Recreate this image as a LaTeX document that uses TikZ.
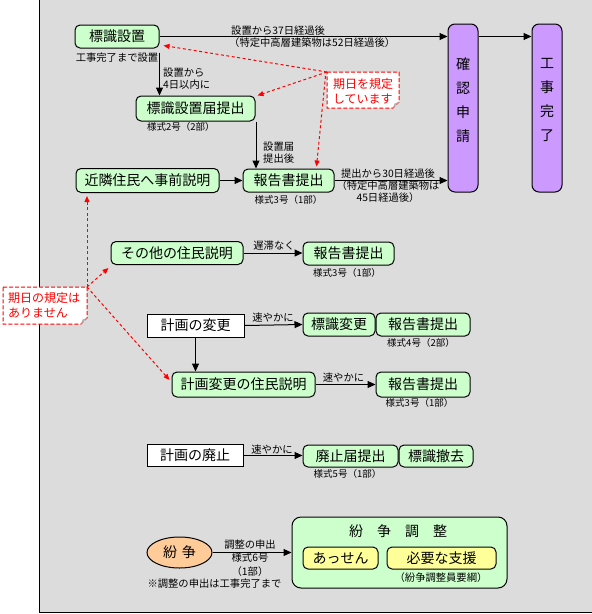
\documentclass[tikz,border=0pt]{standalone}
\usepackage{fontspec}
\setmainfont{Noto Sans CJK JP}
\usetikzlibrary{arrows.meta,shapes.geometric,calc}
\definecolor{bggray}{RGB}{220,220,220}
\definecolor{boxgreen}{RGB}{204,255,204}
\definecolor{boxpurple}{RGB}{204,153,255}
\definecolor{boxorange}{RGB}{255,204,153}
\definecolor{boxyellow}{RGB}{255,255,153}
\definecolor{callred}{RGB}{255,0,0}
\tikzset{
  gbox/.style={draw=black, fill=boxgreen, rounded corners=5pt, line width=1pt, inner sep=0pt, font=\fontsize{14}{16}\selectfont},
  wbox/.style={draw=black, fill=white, line width=1pt, inner sep=0pt, font=\fontsize{14}{16}\selectfont},
  pbox/.style={draw=black, fill=boxpurple, rounded corners=7pt, line width=1pt, inner sep=0pt},
  ybox/.style={draw=black, fill=boxyellow, rounded corners=5pt, line width=1pt, inner sep=0pt, font=\fontsize{14}{16}\selectfont},
  vtxt/.style={inner sep=0pt, align=center, font=\fontsize{14}{24}\selectfont},
  lbl/.style={inner sep=0pt, font=\fontsize{10.3}{12.5}\selectfont},
  form/.style={inner sep=0pt, font=\fontsize{9.5}{12}\selectfont},
  arr/.style={draw=black, line width=1pt, -{Triangle[length=8pt,width=7pt]}},
  rarr/.style={draw=callred, line width=1pt, dash pattern=on 3pt off 2.5pt, -{Triangle[length=6pt,width=5pt]}},
  callshape/.style={draw=callred, fill=white, line width=1pt, dash pattern=on 4pt off 2pt},
  calltxt/.style={text=callred, inner sep=0pt, font=\fontsize{12}{15}\selectfont, align=left}
}
\begin{document}
\begin{tikzpicture}[x=1pt,y=-1pt]
\useasboundingbox (0,0) rectangle (592,614);
% background frame
\fill[bggray] (39.5,0) rectangle (592,612.5);
\draw[line width=1pt] (39.5,0) -- (39.5,612.5) -- (592,612.5);

% ---- top section nodes
\node[gbox, minimum width=84pt, minimum height=23pt] (s1) at (117,36.5) {標識設置};
\node[lbl] (s1lbl) at (117,58) {工事完了まで設置};
\node[gbox, minimum width=119pt, minimum height=25pt] (s2) at (195.5,108.5) {標識設置届提出};
\node[form, anchor=west] (s2lbl) at (147,127) {様式2号（2部）};
\node[gbox, minimum width=143pt, minimum height=24pt] (kinrin) at (147.5,180.5) {近隣住民へ事前説明};
\node[gbox, minimum width=91pt, minimum height=23pt] (r1) at (288.5,180.5) {報告書提出};
\node[form] (r1lbl) at (288.5,200) {様式3号（1部）};

\node[pbox, minimum width=30pt, minimum height=168pt] (kakunin) at (463,108) {};
\node[vtxt] (kakunintxt) at (463,100) {確\\認\\申\\請};
\node[pbox, minimum width=30pt, minimum height=168pt] (kanryo) at (547,108) {};
\node[vtxt] (kanryotxt) at (547,100) {工\\事\\完\\了};

% labels of top arrows
\node[lbl, anchor=west, align=left] (t1lbl) at (229,36.5) {\hspace*{2pt}設置から37日経過後\\（特定中高層建築物は52日経過後）};
\node[lbl, anchor=west, align=left] (t2lbl) at (163,79) {設置から\\4日以内に};
\node[lbl, anchor=west, align=left] (t3lbl) at (263,153) {設置届\\提出後};
\node[lbl, align=center, font=\fontsize{10.3}{12}\selectfont] (t4lbl) at (388,186) {提出から30日経過後\\（特定中高層建築物は\\45日経過後）};

% top connectors
\draw[arr] (s1.east) -- (s1.east -| kakunin.west);
\draw[arr] (kakunin.east |- s1.east) -- (kanryo.west |- s1.east);
\draw[arr] ([yshift=-4pt]s1.south east) -- (s1.south east |- s2.north);
\draw[arr] ([xshift=0.5pt]s2.south east) -- ([xshift=0.5pt]s2.south east |- r1.north);
\draw[arr] (kinrin.east) -- (r1.west);
\draw[arr] (r1.east) -- (r1.east -| kakunin.west);

% callout 1
\draw[callshape] (327,72) -- (399,72) -- (399,102) -- (393,108) -- (327,108) -- cycle;
\fill[gray!60] (399,102) -- (393,108) -- (394.5,103.5) -- cycle;
\node[calltxt] (c1) at (363,91.5) {期日を規定\\しています};
\coordinate (c1a) at (327,72);
\coordinate (c1b) at (325.5,76);
\draw[rarr] (c1a) -- ($(s1.south east)+(4,-3)$);
\draw[rarr] (c1a) -- ($(s2.north east)+(2,0)$);
\draw[rarr] (c1b) -- ($(r1.north east)+(-18,-2)$);

% ---- その他の住民説明
\node[gbox, minimum width=132pt, minimum height=23pt] (sonota) at (177,253) {その他の住民説明};
\node[gbox, minimum width=91pt, minimum height=23pt] (r2) at (348.5,253.5) {報告書提出};
\node[form] (r2lbl) at (347,273) {様式3号（1部）};
\node[lbl] (d1lbl) at (274,246) {遅滞なく};
\draw[arr] (sonota.east) -- (r2.west |- sonota.east);

% ---- 計画の変更
\node[wbox, minimum width=97pt, minimum height=23pt] (keikaku) at (195.5,325.5) {計画の変更};
\node[gbox, minimum width=72pt, minimum height=23pt] (hhenko) at (339,324.5) {標識変更};
\node[gbox, minimum width=94pt, minimum height=23pt] (r3) at (423,324.5) {報告書提出};
\node[form] (r3lbl) at (421,343) {様式4号（2部）};
\node[lbl] (d2lbl) at (273,318) {速やかに};
\draw[arr] (keikaku.east) -- (hhenko.west);

\node[gbox, minimum width=143pt, minimum height=25pt] (ksetsu) at (243.5,384.5) {計画変更の住民説明};
\node[gbox, minimum width=94pt, minimum height=25pt] (r4) at (423,384.5) {報告書提出};
\node[form] (r4lbl) at (419.5,403) {様式3号（1部）};
\node[lbl] (d3lbl) at (343.5,377.5) {速やかに};
\draw[arr] (keikaku.south) -- (keikaku.south |- ksetsu.north);
\draw[arr] (ksetsu.east) -- (r4.west);

% ---- 計画の廃止
\node[wbox, minimum width=96pt, minimum height=22pt] (haishi) at (195,455.5) {計画の廃止};
\node[gbox, minimum width=95pt, minimum height=22pt] (htodoke) at (350.5,456) {廃止届提出};
\node[gbox, minimum width=74pt, minimum height=22pt] (tekkyo) at (436,456) {標識撤去};
\node[form] (htlbl) at (347.5,474) {様式5号（1部）};
\node[lbl] (d4lbl) at (272,449.5) {速やかに};
\draw[arr] (haishi.east) -- (htodoke.west |- haishi.east);

% callout 2
\draw[callshape] (3,287) -- (87,287) -- (87,318) -- (81,324) -- (3,324) -- cycle;
\fill[gray!60] (87,318) -- (81,324) -- (82.5,319.5) -- cycle;
\node[calltxt, anchor=west] (c2) at (8,305.5) {期日の規定は\\ありません};
\coordinate (c2a) at (87,287);
\draw[rarr] (c2a) -- ($(kinrin.south -| c2a)+(0,3)$);
\draw[rarr] (c2a) -- ($(sonota.south west)+(-2,3)$);
\draw[rarr] (c2a) -- ($(ksetsu.west)+(-2,-4.5)$);

% ---- 紛争
\node[ellipse, draw=black, fill=boxorange, line width=1pt, minimum width=65pt, minimum height=31pt, inner sep=0pt, font=\fontsize{14}{16}\selectfont] (funso) at (179.5,552.5) {紛\hspace{5pt}争};
\node[draw=black, fill=boxgreen, rounded corners=9pt, line width=1pt, minimum width=215pt, minimum height=71pt, inner sep=0pt] (chosei) at (399.5,552.5) {};
\node[inner sep=0pt, font=\fontsize{14}{16}\selectfont] (choseittl) at (398,531) {紛　争　調　整};
\node[ybox, minimum width=75pt, minimum height=22pt] (assen) at (340.5,558) {あっせん};
\node[ybox, minimum width=109pt, minimum height=22pt] (hitsuyo) at (441.5,558) {必要な支援};
\node[lbl] (yoko) at (441,578) {（紛争調整員要綱）};
\node[lbl] (f1lbl) at (250,545) {調整の申出};
\node[lbl, align=center, font=\fontsize{10.3}{14}\selectfont] (f2lbl) at (250,565) {様式6号\\（1部）};
\node[lbl] (f3lbl) at (214.5,584) {※調整の申出は工事完了まで};
\draw[arr] (funso.east) -- (funso.east -| chosei.west);
\end{tikzpicture}
\end{document}
